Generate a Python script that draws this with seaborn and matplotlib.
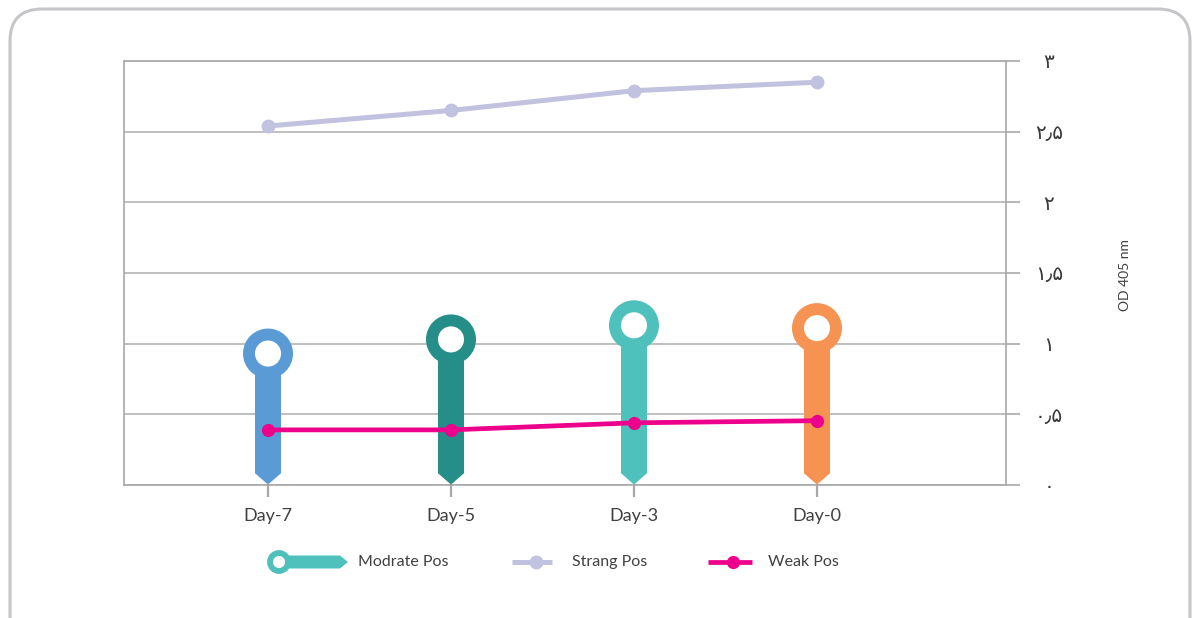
import numpy as np
import pandas as pd
import matplotlib
matplotlib.use("Agg")
import matplotlib.pyplot as plt
from matplotlib.patches import Polygon, FancyBboxPatch, Circle
import seaborn as sns

# ---------------- data ----------------
days = ["Day-7", "Day-5", "Day-3", "Day-0"]
moderate_pos = [0.93, 1.03, 1.13, 1.11]
strang_pos = [2.54, 2.65, 2.79, 2.85]
weak_pos = [0.39, 0.39, 0.44, 0.455]
pin_colors = ["#5B9BD5", "#258E88", "#4FC1BC", "#F79352"]
y_ticks = [0, 0.5, 1, 1.5, 2, 2.5, 3]
y_tick_labels = ["۰", "۰٫۵", "۱", "۱٫۵", "۲", "۲٫۵", "۳"]
series_names = ["Modrate Pos", "Strang Pos", "Weak Pos"]
y_label = "OD 405 nm"

STRANG_C = "#C1C1E0"
WEAK_C = "#EC008C"
TEXT_C = "#404040"
GRID_C = "#B4B4B4"

sns.set_style("white")
plt.rcParams["font.family"] = ["Lato", "DejaVu Sans"]

W, H = 1192, 618
fig = plt.figure(figsize=(W / 100, H / 100), dpi=100)

# overlay for frame and legend (pixel coordinates)
ov = fig.add_axes([0, 0, 1, 1], zorder=0)
ov.set_xlim(0, W)
ov.set_ylim(H, 0)
ov.axis("off")
ov.patch.set_alpha(0)
frame = FancyBboxPatch((10, 9), 1180, 700, boxstyle="round,pad=0,rounding_size=32",
                       fill=False, edgecolor="#C6C6CA", linewidth=2.2)
ov.add_patch(frame)

ax = fig.add_axes([124 / W, 1 - 485 / H, (1006 - 124) / W, (485 - 61) / H], zorder=2)
ax.patch.set_alpha(0)

df = pd.DataFrame({"day": days, "moderate": moderate_pos,
                   "strang": strang_pos, "weak": weak_pos})

# stems of pins
bar_w = 0.147
tip = 0.085
sns.barplot(data=df, x="day", y="moderate", hue="day", palette=pin_colors,
            width=bar_w, legend=False, ax=ax, saturation=1, zorder=3)
for i, p in enumerate(ax.patches):
    v = moderate_pos[i]
    p.set_y(tip)
    p.set_height(v - tip)
    p.set_linewidth(0)
    cx = p.get_x() + p.get_width() / 2
    ax.add_patch(Polygon([(cx - bar_w / 2, tip + 0.001), (cx + bar_w / 2, tip + 0.001),
                          (cx, 0.003)], closed=True, facecolor=pin_colors[i],
                         edgecolor="none", zorder=3))
# ring heads
ax.scatter(range(len(days)), moderate_pos, s=27.4 ** 2, facecolor="white",
           edgecolors=pin_colors, linewidths=8.6, zorder=4)

# lines
sns.lineplot(x=range(len(days)), y=strang_pos, ax=ax, color=STRANG_C, lw=3.6,
             marker="o", markersize=10, markeredgewidth=0, sort=False, zorder=5)
sns.lineplot(x=range(len(days)), y=weak_pos, ax=ax, color=WEAK_C, lw=3.4,
             marker="o", markersize=9.5, markeredgewidth=0, sort=False, zorder=5)

ax.set_xlim(-0.787, 4.033)
ax.set_ylim(0, 3)
ax.set_xlabel("")
ax.set_ylabel("")

ax.set_yticks(y_ticks)
ax.set_yticklabels(y_tick_labels, family=["DejaVu Sans"], fontsize=14.5,
                   color="#3A3A3A", ha="center")
ax.yaxis.tick_right()
ax.tick_params(axis="y", which="both", right=True, left=False, length=10,
               width=1.2, color="#A8A8A8", pad=21)
ax.set_xticks(range(len(days)))
ax.set_xticklabels(days, fontsize=13, color=TEXT_C)
ax.tick_params(axis="x", bottom=True, length=8.6, width=1.6, color="#A8A8A8", pad=8)

ax.grid(axis="y", color=GRID_C, linewidth=1.2)
ax.set_axisbelow(True)
for s in ax.spines.values():
    s.set_visible(True)
    s.set_color("#A8A8A8")
    s.set_linewidth(1.2)

fig.text(1125 / W, 1 - 275 / H, y_label, rotation=90, ha="center", va="center",
         fontsize=10, color=TEXT_C)

# ---------------- legend ----------------
ly = 562
# Modrate icon
ov.add_patch(Polygon([(280, ly - 6.5), (340, ly - 6.5), (348, ly), (340, ly + 6.5),
                      (280, ly + 6.5)], closed=True, facecolor="#4FC1BC", edgecolor="none"))
ov.add_patch(Circle((279, ly), 9, facecolor="white", edgecolor="#4FC1BC", linewidth=4.2))
ov.text(358, ly, series_names[0], fontsize=11.5, color=TEXT_C, va="center", ha="left")
# Strang
ov.plot([512, 552], [ly, ly], color=STRANG_C, lw=3.6, solid_capstyle="butt")
ov.plot([536], [ly], "o", color=STRANG_C, markersize=10, markeredgewidth=0)
ov.text(572, ly, series_names[1], fontsize=11.5, color=TEXT_C, va="center", ha="left")
# Weak
ov.plot([708, 752], [ly, ly], color=WEAK_C, lw=3.4, solid_capstyle="butt")
ov.plot([733], [ly], "o", color=WEAK_C, markersize=9.5, markeredgewidth=0)
ov.text(768, ly, series_names[2], fontsize=11.5, color=TEXT_C, va="center", ha="left")

fig.savefig("out.png", dpi=100, facecolor="white")
